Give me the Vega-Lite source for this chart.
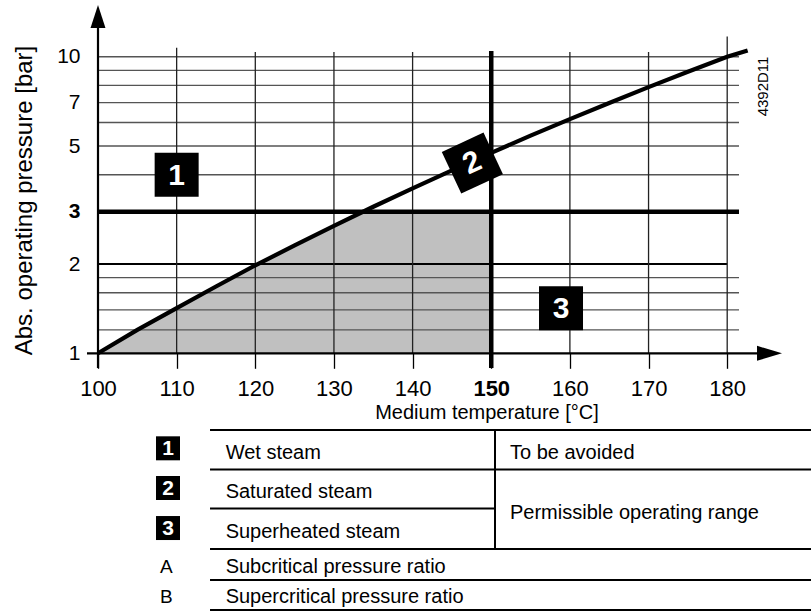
{
  "$schema": "https://vega.github.io/schema/vega-lite/v6.json",
  "width": 713,
  "height": 607.5,
  "autosize": {"type": "none"},
  "padding": {"left": 98, "top": 4.5, "right": 0, "bottom": 0},
  "background": "white",
  "config": {"view": {"stroke": null}, "font": "Liberation Sans"},
  "datasets": {
    "curve": [
      {"T": 100, "p": 1.0}, {"T": 105, "p": 1.2}, {"T": 110, "p": 1.42}, {"T": 115, "p": 1.68},
      {"T": 120, "p": 1.98}, {"T": 125, "p": 2.31}, {"T": 130, "p": 2.69}, {"T": 135, "p": 3.12},
      {"T": 140, "p": 3.6}, {"T": 145, "p": 4.14}, {"T": 150, "p": 4.74}, {"T": 155, "p": 5.42},
      {"T": 160, "p": 6.16}, {"T": 165, "p": 6.98}, {"T": 170, "p": 7.9}, {"T": 175, "p": 8.9},
      {"T": 180, "p": 10.0}, {"T": 182.6, "p": 10.5}
    ],
    "shade": [
      {"T": 100, "p": 1.0}, {"T": 105, "p": 1.2}, {"T": 110, "p": 1.42}, {"T": 115, "p": 1.68},
      {"T": 120, "p": 1.98}, {"T": 125, "p": 2.31}, {"T": 130, "p": 2.69}, {"T": 133.7, "p": 3.0},
      {"T": 150, "p": 3.0}
    ],
    "hgrid": [
      {"p": 1.2, "T": 100, "T2": 181.5}, {"p": 1.4, "T": 100, "T2": 181.5}, {"p": 1.6, "T": 100, "T2": 181.5},
      {"p": 1.8, "T": 100, "T2": 181.5}, {"p": 4, "T": 100, "T2": 181.5}, {"p": 5, "T": 100, "T2": 181.5},
      {"p": 6, "T": 100, "T2": 181.5}, {"p": 7, "T": 100, "T2": 181.5}, {"p": 8, "T": 100, "T2": 181.5},
      {"p": 9, "T": 100, "T2": 181.5}, {"p": 10, "T": 100, "T2": 181.5}
    ],
    "hgrid2": [{"p": 2, "T": 100, "T2": 180}],
    "vgrid": [
      {"T": 110, "p": 1, "p2": 10.72}, {"T": 120, "p": 1, "p2": 10.37}, {"T": 130, "p": 1, "p2": 10.37},
      {"T": 140, "p": 1, "p2": 10.37}, {"T": 160, "p": 1, "p2": 10.37}, {"T": 170, "p": 1, "p2": 10.37},
      {"T": 180, "p": 1, "p2": 11.7}
    ],
    "hthick": [{"p": 3, "T": 100, "T2": 181.5}],
    "vthick": [{"T": 150, "p": 0.892, "p2": 10.45}],
    "xaxisline": [{"p": 1, "T": 98.6, "T2": 185.5}],
    "yaxisline": [{"T": 100, "p": 0.892, "p2": 14.0}],
    "xarrow": [{"T": 185.38, "p": 1}],
    "yarrow": [{"T": 100, "p": 13.66}],
    "badges": [{"n": "1", "T": 110, "p": 4.0}, {"n": "3", "T": 158.87, "p": 1.42}],
    "badge2": [{"n": "2", "T": 147.6, "p": 4.38}],
    "code": [{"label": "4392D11", "T": 184.55, "p": 7.94}],
    "tlines": [
      {"v": 0, "u0": 15.71, "u1": 100}, {"v": 0.995, "u0": 15.71, "u1": 100},
      {"v": 1.98, "u0": 15.71, "u1": 55.68}, {"v": 3.0, "u0": 15.71, "u1": 100},
      {"v": 3.781, "u0": 15.71, "u1": 100}, {"v": 4.534, "u0": 15.71, "u1": 100}
    ],
    "tdiv": [{"u": 55.68, "v": 0, "v2": 3.0}],
    "tbadges": [{"n": "1", "u": 9.82, "v": 0.461}, {"n": "2", "u": 9.82, "v": 1.461}, {"n": "3", "u": 9.82, "v": 2.469}],
    "tletters": [{"n": "A", "u": 9.6, "v": 3.443}, {"n": "B", "u": 9.6, "v": 4.199}],
    "tdesc": [
      {"label": "Wet steam", "u": 17.9, "v": 0.579},
      {"label": "Saturated steam", "u": 17.9, "v": 1.562},
      {"label": "Superheated steam", "u": 17.9, "v": 2.562},
      {"label": "Subcritical pressure ratio", "u": 17.9, "v": 3.443},
      {"label": "Supercritical pressure ratio", "u": 17.9, "v": 4.199},
      {"label": "To be avoided", "u": 57.78, "v": 0.579},
      {"label": "Permissible operating range", "u": 57.78, "v": 2.091}
    ]
  },
  "layer": [
    {
      "layer": [
        {
          "data": {"name": "shade"},
          "mark": {"type": "area", "color": "#c0c0c0"},
          "encoding": {
            "x": {"field": "T", "type": "quantitative", "scale": {"type": "linear", "domain": [100, 190.655], "nice": false, "zero": false},
              "axis": {"values": [100, 110, 120, 130, 140, 150, 160, 170, 180], "title": "Medium temperature [°C]", "domain": false, "grid": false,
                "ticks": true, "tickSize": 15, "tickColor": "black", "tickWidth": 1.3, "labelFontSize": 22, "labelPadding": 10, "labelColor": "black",
                "labelFlush": false, "labelOverlap": false, "labelBound": false, "format": "d",
                "labelFontWeight": {"condition": {"test": "datum.value === 150", "value": "bold"}, "value": "normal"},
                "offset": -258.7, "titleFontSize": 20, "titleFontWeight": "normal", "titleColor": "black",
                "titleX": 388.5, "titleY": 65.5, "titleAlign": "center", "titleBaseline": "alphabetic"}},
            "y": {"field": "p", "type": "quantitative", "scale": {"type": "log", "domain": [0.1342, 15.0], "nice": false},
              "axis": {"values": [1, 2, 3, 5, 7, 10], "title": "Abs. operating pressure [bar]", "domain": false, "grid": false,
                "ticks": false, "tickSize": 0, "labelPadding": 18, "labelFontSize": 21, "labelColor": "black", "labelFlush": false,
                "labelOverlap": false, "labelBound": false, "format": "d",
                "labelFontWeight": {"condition": {"test": "datum.value === 3", "value": "bold"}, "value": "normal"},
                "titleFontSize": 24, "titleFontWeight": "normal", "titleColor": "black", "titleAngle": -90,
                "titleX": -74, "titleY": 195.5, "titleAlign": "center", "titleBaseline": "middle"}},
            "y2": {"datum": 1}
          }
        },
        {
          "data": {"name": "hgrid"},
          "mark": {"type": "rule", "color": "#555555", "strokeWidth": 1.3},
          "encoding": {
            "x": {"field": "T", "type": "quantitative", "scale": {"type": "linear", "domain": [100, 190.655], "nice": false, "zero": false}},
            "x2": {"field": "T2"},
            "y": {"field": "p", "type": "quantitative", "scale": {"type": "log", "domain": [0.1342, 15.0], "nice": false}}
          }
        },
        {
          "data": {"name": "hgrid2"},
          "mark": {"type": "rule", "color": "black", "strokeWidth": 2},
          "encoding": {
            "x": {"field": "T", "type": "quantitative", "scale": {"type": "linear", "domain": [100, 190.655], "nice": false, "zero": false}},
            "x2": {"field": "T2"},
            "y": {"field": "p", "type": "quantitative", "scale": {"type": "log", "domain": [0.1342, 15.0], "nice": false}}
          }
        },
        {
          "data": {"name": "vgrid"},
          "mark": {"type": "rule", "color": "#222222", "strokeWidth": 1.3},
          "encoding": {
            "x": {"field": "T", "type": "quantitative", "scale": {"type": "linear", "domain": [100, 190.655], "nice": false, "zero": false}},
            "y": {"field": "p", "type": "quantitative", "scale": {"type": "log", "domain": [0.1342, 15.0], "nice": false}},
            "y2": {"field": "p2"}
          }
        },
        {
          "data": {"name": "hthick"},
          "mark": {"type": "rule", "color": "black", "strokeWidth": 4.5},
          "encoding": {
            "x": {"field": "T", "type": "quantitative", "scale": {"type": "linear", "domain": [100, 190.655], "nice": false, "zero": false}},
            "x2": {"field": "T2"},
            "y": {"field": "p", "type": "quantitative", "scale": {"type": "log", "domain": [0.1342, 15.0], "nice": false}}
          }
        },
        {
          "data": {"name": "vthick"},
          "mark": {"type": "rule", "color": "black", "strokeWidth": 4.5},
          "encoding": {
            "x": {"field": "T", "type": "quantitative", "scale": {"type": "linear", "domain": [100, 190.655], "nice": false, "zero": false}},
            "y": {"field": "p", "type": "quantitative", "scale": {"type": "log", "domain": [0.1342, 15.0], "nice": false}},
            "y2": {"field": "p2"}
          }
        },
        {
          "data": {"name": "xaxisline"},
          "mark": {"type": "rule", "color": "black", "strokeWidth": 2.2},
          "encoding": {
            "x": {"field": "T", "type": "quantitative", "scale": {"type": "linear", "domain": [100, 190.655], "nice": false, "zero": false}},
            "x2": {"field": "T2"},
            "y": {"field": "p", "type": "quantitative", "scale": {"type": "log", "domain": [0.1342, 15.0], "nice": false}}
          }
        },
        {
          "data": {"name": "yaxisline"},
          "mark": {"type": "rule", "color": "black", "strokeWidth": 2.2},
          "encoding": {
            "x": {"field": "T", "type": "quantitative", "scale": {"type": "linear", "domain": [100, 190.655], "nice": false, "zero": false}},
            "y": {"field": "p", "type": "quantitative", "scale": {"type": "log", "domain": [0.1342, 15.0], "nice": false}},
            "y2": {"field": "p2"}
          }
        },
        {
          "data": {"name": "xarrow"},
          "mark": {"type": "point", "shape": "M-1,-0.6L1,0L-1,0.6Z", "size": 625, "filled": true, "color": "black", "opacity": 1, "strokeWidth": 0},
          "encoding": {
            "x": {"field": "T", "type": "quantitative", "scale": {"type": "linear", "domain": [100, 190.655], "nice": false, "zero": false}},
            "y": {"field": "p", "type": "quantitative", "scale": {"type": "log", "domain": [0.1342, 15.0], "nice": false}}
          }
        },
        {
          "data": {"name": "yarrow"},
          "mark": {"type": "point", "shape": "M-0.65,1L0,-1L0.65,1Z", "size": 529, "filled": true, "color": "black", "opacity": 1, "strokeWidth": 0},
          "encoding": {
            "x": {"field": "T", "type": "quantitative", "scale": {"type": "linear", "domain": [100, 190.655], "nice": false, "zero": false}},
            "y": {"field": "p", "type": "quantitative", "scale": {"type": "log", "domain": [0.1342, 15.0], "nice": false}}
          }
        },
        {
          "data": {"name": "curve"},
          "mark": {"type": "line", "color": "black", "strokeWidth": 4.2},
          "encoding": {
            "x": {"field": "T", "type": "quantitative", "scale": {"type": "linear", "domain": [100, 190.655], "nice": false, "zero": false}},
            "y": {"field": "p", "type": "quantitative", "scale": {"type": "log", "domain": [0.1342, 15.0], "nice": false}}
          }
        },
        {
          "data": {"name": "badges"},
          "mark": {"type": "square", "size": 1936, "filled": true, "color": "black", "opacity": 1},
          "encoding": {
            "x": {"field": "T", "type": "quantitative", "scale": {"type": "linear", "domain": [100, 190.655], "nice": false, "zero": false}},
            "y": {"field": "p", "type": "quantitative", "scale": {"type": "log", "domain": [0.1342, 15.0], "nice": false}}
          }
        },
        {
          "data": {"name": "badges"},
          "mark": {"type": "text", "color": "white", "fontWeight": "bold", "fontSize": 30, "align": "center", "baseline": "middle", "dy": 1},
          "encoding": {
            "x": {"field": "T", "type": "quantitative", "scale": {"type": "linear", "domain": [100, 190.655], "nice": false, "zero": false}},
            "y": {"field": "p", "type": "quantitative", "scale": {"type": "log", "domain": [0.1342, 15.0], "nice": false}},
            "text": {"field": "n"}
          }
        },
        {
          "data": {"name": "badge2"},
          "mark": {"type": "square", "size": 2116, "filled": true, "color": "black", "opacity": 1, "angle": -25},
          "encoding": {
            "x": {"field": "T", "type": "quantitative", "scale": {"type": "linear", "domain": [100, 190.655], "nice": false, "zero": false}},
            "y": {"field": "p", "type": "quantitative", "scale": {"type": "log", "domain": [0.1342, 15.0], "nice": false}}
          }
        },
        {
          "data": {"name": "badge2"},
          "mark": {"type": "text", "color": "white", "fontWeight": "bold", "fontSize": 30, "align": "center", "baseline": "middle", "angle": -25},
          "encoding": {
            "x": {"field": "T", "type": "quantitative", "scale": {"type": "linear", "domain": [100, 190.655], "nice": false, "zero": false}},
            "y": {"field": "p", "type": "quantitative", "scale": {"type": "log", "domain": [0.1342, 15.0], "nice": false}},
            "text": {"field": "n"}
          }
        },
        {
          "data": {"name": "code"},
          "mark": {"type": "text", "color": "black", "fontSize": 15, "align": "center", "baseline": "middle", "angle": -90},
          "encoding": {
            "x": {"field": "T", "type": "quantitative", "scale": {"type": "linear", "domain": [100, 190.655], "nice": false, "zero": false}},
            "y": {"field": "p", "type": "quantitative", "scale": {"type": "log", "domain": [0.1342, 15.0], "nice": false}},
            "text": {"field": "label"}
          }
        }
      ]
    },
    {
      "layer": [
        {
          "data": {"name": "tlines"},
          "mark": {"type": "rule", "color": "black", "strokeWidth": 2},
          "encoding": {
            "x": {"field": "u0", "type": "quantitative", "scale": {"domain": [0, 100], "nice": false, "zero": false}, "axis": null},
            "x2": {"field": "u1"},
            "y": {"field": "v", "type": "quantitative", "scale": {"domain": [-10.718, 4.584], "reverse": true, "nice": false, "zero": false}, "axis": null}
          }
        },
        {
          "data": {"name": "tdiv"},
          "mark": {"type": "rule", "color": "black", "strokeWidth": 2},
          "encoding": {
            "x": {"field": "u", "type": "quantitative", "scale": {"domain": [0, 100], "nice": false, "zero": false}, "axis": null},
            "y": {"field": "v", "type": "quantitative", "scale": {"domain": [-10.718, 4.584], "reverse": true, "nice": false, "zero": false}, "axis": null},
            "y2": {"field": "v2"}
          }
        },
        {
          "data": {"name": "tbadges"},
          "mark": {"type": "square", "size": 576, "filled": true, "color": "black", "opacity": 1},
          "encoding": {
            "x": {"field": "u", "type": "quantitative", "scale": {"domain": [0, 100], "nice": false, "zero": false}, "axis": null},
            "y": {"field": "v", "type": "quantitative", "scale": {"domain": [-10.718, 4.584], "reverse": true, "nice": false, "zero": false}, "axis": null}
          }
        },
        {
          "data": {"name": "tbadges"},
          "mark": {"type": "text", "color": "white", "fontWeight": "bold", "fontSize": 21, "align": "center", "baseline": "middle", "dy": 1},
          "encoding": {
            "x": {"field": "u", "type": "quantitative", "scale": {"domain": [0, 100], "nice": false, "zero": false}, "axis": null},
            "y": {"field": "v", "type": "quantitative", "scale": {"domain": [-10.718, 4.584], "reverse": true, "nice": false, "zero": false}, "axis": null},
            "text": {"field": "n"}
          }
        },
        {
          "data": {"name": "tletters"},
          "mark": {"type": "text", "color": "black", "fontSize": 19, "align": "center", "baseline": "middle"},
          "encoding": {
            "x": {"field": "u", "type": "quantitative", "scale": {"domain": [0, 100], "nice": false, "zero": false}, "axis": null},
            "y": {"field": "v", "type": "quantitative", "scale": {"domain": [-10.718, 4.584], "reverse": true, "nice": false, "zero": false}, "axis": null},
            "text": {"field": "n"}
          }
        },
        {
          "data": {"name": "tdesc"},
          "mark": {"type": "text", "color": "black", "fontSize": 20, "align": "left", "baseline": "middle"},
          "encoding": {
            "x": {"field": "u", "type": "quantitative", "scale": {"domain": [0, 100], "nice": false, "zero": false}, "axis": null},
            "y": {"field": "v", "type": "quantitative", "scale": {"domain": [-10.718, 4.584], "reverse": true, "nice": false, "zero": false}, "axis": null},
            "text": {"field": "label"}
          }
        }
      ]
    }
  ],
  "resolve": {"scale": {"x": "independent", "y": "independent"}}
}
